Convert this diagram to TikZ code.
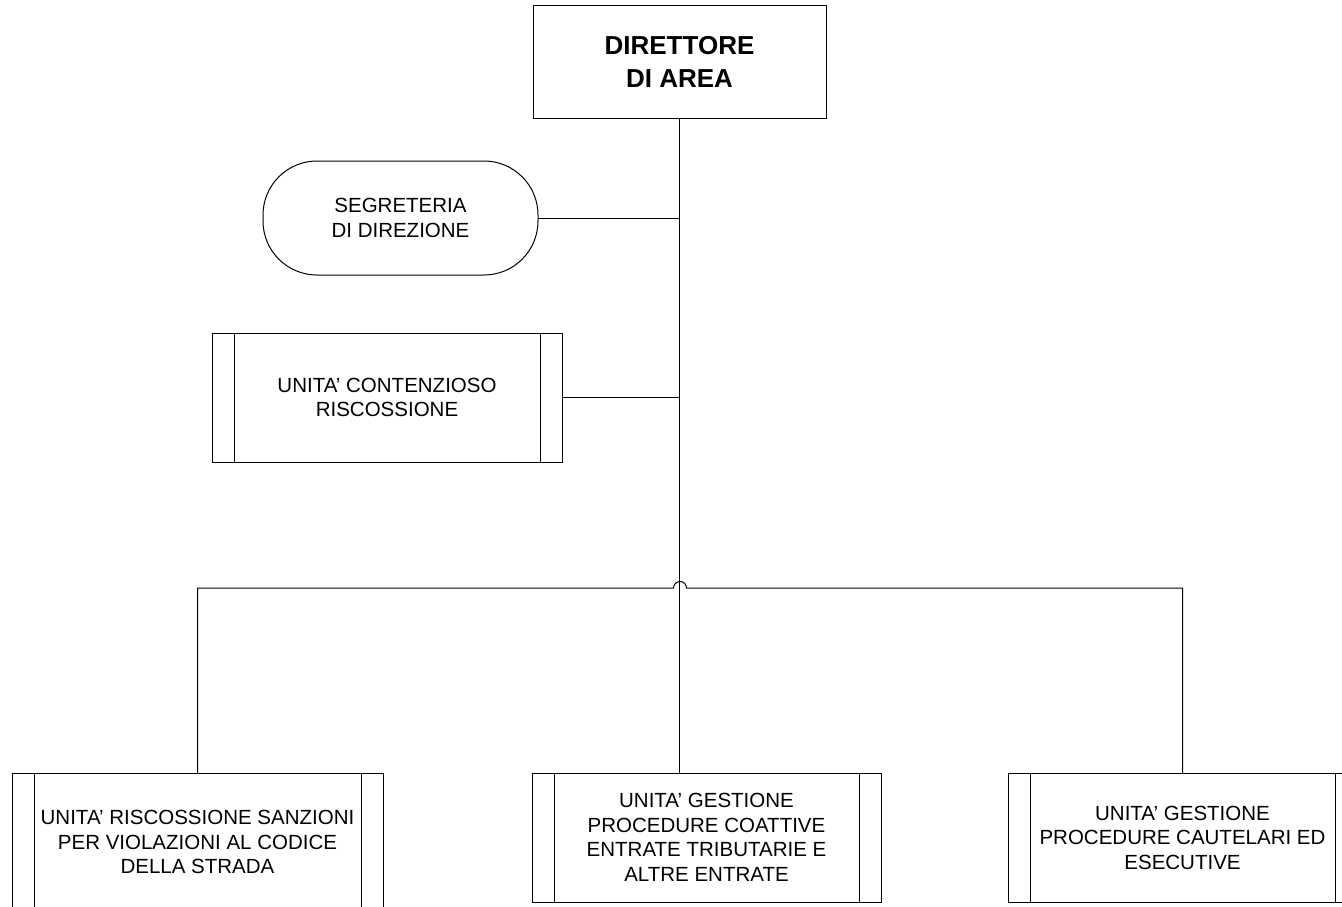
\documentclass[tikz,border=0pt]{standalone}
\usepackage{fontspec}
\setmainfont{Liberation Sans}
\begin{document}
\begin{tikzpicture}[x=1pt,y=-1pt,
  conn/.style={draw=black, line width=1pt},
  base/.style={draw=black, line width=1pt, inner sep=0pt, outer sep=0pt, align=center,
    font=\fontsize{20.5}{24.5}\selectfont},
  topbox/.style={base, font=\bfseries\fontsize{26}{33}\selectfont},
  stadium/.style={base, rounded corners=54pt},
  unitbox/.style={base, path picture={
    \draw[line width=1pt]
      ([xshift=22pt]path picture bounding box.north west) -- ([xshift=22pt]path picture bounding box.south west)
      ([xshift=-22pt]path picture bounding box.north east) -- ([xshift=-22pt]path picture bounding box.south east);
  }}
]
\useasboundingbox (0,0) rectangle (1342,907);
\clip (0,0) rectangle (1342,907);
\fill[white] (0,0) rectangle (1342,907);

\node[topbox, minimum width=293pt, minimum height=112pt] (dir) at (679.5,62) {DIRETTORE\\DI AREA};
\node[stadium, minimum width=275pt, minimum height=114pt] (seg) at (400.5,218) {SEGRETERIA\\DI DIREZIONE};
\node[unitbox, minimum width=350pt, minimum height=129pt] (cont) at (387,397.5) {UNITA’ CONTENZIOSO\\RISCOSSIONE};
\node[unitbox, minimum width=371pt, minimum height=138pt] (b1) at (197.5,842) {UNITA’ RISCOSSIONE SANZIONI\\PER VIOLAZIONI AL CODICE\\DELLA STRADA};
\node[unitbox, minimum width=349pt, minimum height=129pt] (b2) at (706.5,837.5) {UNITA’ GESTIONE\\PROCEDURE COATTIVE\\ENTRATE TRIBUTARIE E\\ALTRE ENTRATE};
\node[unitbox, minimum width=349pt, minimum height=129pt] (b3) at (1182.5,837.5) {UNITA’ GESTIONE\\PROCEDURE CAUTELARI ED\\ESECUTIVE};

\draw[conn] (dir.south) -- (dir.south |- b2.north);
\draw[conn] (seg.east) -- (seg.east -| dir.south);
\draw[conn] (cont.east) -- (cont.east -| dir.south);
\coordinate (hopL) at (673.5,588);
\draw[conn] (b1.north) |- (hopL) arc[start angle=180, end angle=0, radius=6.5pt] -- (hopL -| b3.north) -- (b3.north);
\end{tikzpicture}
\end{document}
